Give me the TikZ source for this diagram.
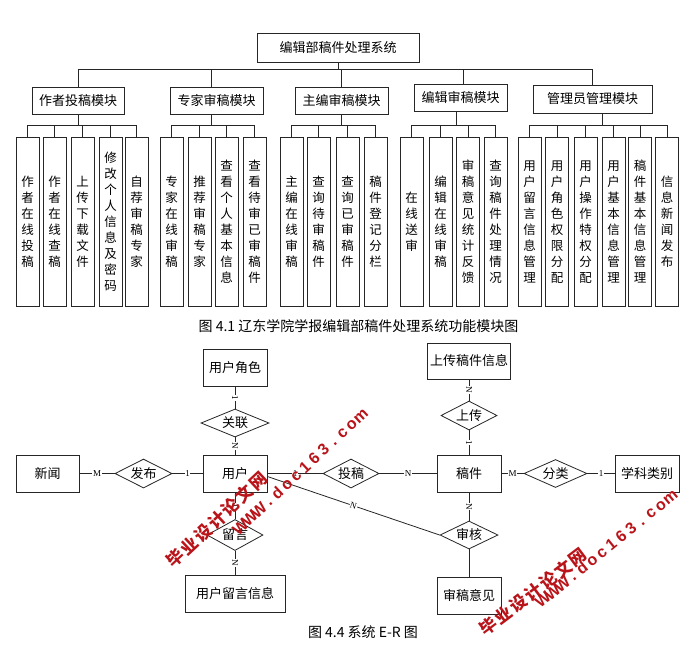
\documentclass[tikz,border=0pt]{standalone}
\usepackage{fontspec}
\setmainfont{Noto Sans CJK SC}
\newfontfamily\latf{Liberation Serif}
\newfontfamily\wmfont{Liberation Sans}
\usetikzlibrary{shapes.geometric}
\definecolor{ln}{gray}{0.15}
\definecolor{wm}{RGB}{185,20,25}
\newcommand\wmwww[3]{%
  \begin{scope}[shift={(#1,#2)},rotate=#3]
    \foreach \ch [count=\i] in {W,W,W,.,d,o,c,1,6,3,.,c,o,m}
      \node[transform shape,text=wm,font=\wmfont\bfseries\fontsize{16}{16}\selectfont,inner sep=0pt,anchor=base] at ({(\i-7.5)*12.6},6) {\ch};
  \end{scope}}
\newcommand\wmcn[3]{%
  \begin{scope}[shift={(#1,#2)},rotate=#3]
    \foreach \ch [count=\i] in {毕,业,设,计,论,文,网}
      \node[transform shape,text=wm,font=\bfseries\fontsize{17}{17}\selectfont,inner sep=0pt] at ({(\i-4)*18.8},0) {\ch};
  \end{scope}}
\begin{document}
\begin{tikzpicture}[x=1pt,y=-1pt,
  box/.style={draw=ln,line width=0.9pt,inner sep=0pt,font=\fontsize{13}{15}\selectfont},
  leaf/.style={draw=ln,line width=0.9pt,inner sep=0pt,minimum width=23pt,minimum height=169pt,anchor=north,align=center,font=\fontsize{12.5}{16}\selectfont},
  ent/.style={draw=ln,line width=0.8pt,minimum width=64pt,minimum height=37pt,inner sep=0pt,font=\fontsize{13}{15}\selectfont},
  rel/.style={diamond,draw=ln,line width=0.8pt,inner sep=0pt,shape aspect=2,minimum width=57pt,minimum height=29pt,font=\fontsize{13}{15}\selectfont},
  conn/.style={draw=ln,line width=0.8pt},
  card/.style={midway,sloped,fill=white,inner sep=0.6pt,font=\latf\fontsize{9}{9}\selectfont},
  captext/.style={inner sep=0pt,font=\fontsize{14}{16}\selectfont}
]
\fill[white] (0,0) rectangle (692,659);
\useasboundingbox (0,0) rectangle (692,659);

% ---------- module tree ----------
\node[box,minimum width=162pt,minimum height=29pt] (root) at (338,47.5) {编辑部稿件处理系统};
\node[box,minimum width=92pt,minimum height=27pt] (m1) at (78,100.5) {作者投稿模块};
\node[box,minimum width=93pt,minimum height=27pt] (m2) at (216.5,100.5) {专家审稿模块};
\node[box,minimum width=93pt,minimum height=27pt] (m3) at (341.5,100.5) {主编审稿模块};
\node[box,minimum width=93pt,minimum height=27pt] (m4) at (460.5,98) {编辑审稿模块};
\node[box,minimum width=119pt,minimum height=28pt] (m5) at (592.5,99) {管理员管理模块};

\node[leaf] (a1) at (27.5,137) {作\\者\\在\\线\\投\\稿};
\node[leaf] (a2) at (54.5,137) {作\\者\\在\\线\\查\\稿};
\node[leaf] (a3) at (82.5,137) {上\\传\\下\\载\\文\\件};
\node[leaf] (a4) at (110.5,137) {修\\改\\个\\人\\信\\息\\及\\密\\码};
\node[leaf] (a5) at (136.5,137) {自\\荐\\审\\稿\\专\\家};

\node[leaf] (b1) at (171.5,137) {专\\家\\在\\线\\审\\稿};
\node[leaf] (b2) at (199.5,137) {推\\荐\\审\\稿\\专\\家};
\node[leaf] (b3) at (226.5,137) {查\\看\\个\\人\\基\\本\\信\\息};
\node[leaf] (b4) at (254.5,137) {查\\看\\待\\审\\已\\审\\稿\\件};

\node[leaf] (c1) at (291.5,137) {主\\编\\在\\线\\审\\稿};
\node[leaf] (c2) at (318.5,137) {查\\询\\待\\审\\稿\\件};
\node[leaf] (c3) at (347.5,137) {查\\询\\已\\审\\稿\\件};
\node[leaf] (c4) at (375.5,137) {稿\\件\\登\\记\\分\\栏};

\node[leaf] (d1) at (411.5,137) {在\\线\\送\\审};
\node[leaf] (d2) at (440.5,137) {编\\辑\\在\\线\\审\\稿};
\node[leaf] (d3) at (468,137) {审\\稿\\意\\见\\统\\计\\反\\馈};
\node[leaf] (d4) at (495.5,137) {查\\询\\稿\\件\\处\\理\\情\\况};

\node[leaf] (e1) at (529.5,137) {用\\户\\留\\言\\信\\息\\管\\理};
\node[leaf] (e2) at (557,137) {用\\户\\角\\色\\权\\限\\分\\配};
\node[leaf] (e3) at (585.5,137) {用\\户\\操\\作\\特\\权\\分\\配};
\node[leaf] (e4) at (613.5,137) {用\\户\\基\\本\\信\\息\\管\\理};
\node[leaf] (e5) at (640,137) {稿\\件\\基\\本\\信\\息\\管\\理};
\node[leaf] (e6) at (667,137) {信\\息\\新\\闻\\发\\布};

\coordinate (bus0) at (0,69);
\coordinate (bus1) at (0,125);

\draw[conn] (root.south) -- (root.south |- bus0);
\draw[conn] (m1.north) -- (m1.north |- bus0) -- (m5.north |- bus0) -- (m5.north);
\draw[conn] ([xshift=-5.5pt]m2.north) -- ([xshift=-5.5pt]m2.north |- bus0);
\draw[conn] (m3.north) -- (m3.north |- bus0);
\draw[conn] ([xshift=2.5pt]m4.north) -- ([xshift=2.5pt]m4.north |- bus0);

\draw[conn] (m1.south) -- (m1.south |- bus1);
\draw[conn] (a1.north) -- (a1.north |- bus1) -- (a5.north |- bus1) -- (a5.north);
\foreach \l in {a2,a3,a4} \draw[conn] (\l.north) -- (\l.north |- bus1);

\draw[conn] ([xshift=-5.5pt]m2.south) -- ([xshift=-5.5pt]m2.south |- bus1);
\draw[conn] (b1.north) -- (b1.north |- bus1) -- (b4.north |- bus1) -- (b4.north);
\foreach \l in {b2,b3} \draw[conn] (\l.north) -- (\l.north |- bus1);

\draw[conn] (m3.south) -- (m3.south |- bus1);
\draw[conn] (c1.north) -- (c1.north |- bus1) -- (c4.north |- bus1) -- (c4.north);
\foreach \l in {c2,c3} \draw[conn] (\l.north) -- (\l.north |- bus1);

\draw[conn] ([xshift=-4.5pt]m4.south) -- ([xshift=-4.5pt]m4.south |- bus1);
\draw[conn] (d1.north) -- (d1.north |- bus1) -- (d4.north |- bus1) -- (d4.north);
\foreach \l in {d2,d3} \draw[conn] (\l.north) -- (\l.north |- bus1);

\draw[conn] ([xshift=9.5pt]m5.south) -- ([xshift=9.5pt]m5.south |- bus1);
\draw[conn] (e1.north) -- (e1.north |- bus1) -- (e6.north |- bus1) -- (e6.north);
\foreach \l in {e2,e3,e4,e5} \draw[conn] (\l.north) -- (\l.north |- bus1);

\node[captext] (cap1) at (358.5,326) {图 4.1 辽东学院学报编辑部稿件处理系统功能模块图};

% ---------- E-R diagram ----------
\node[ent] (juese) at (235,368) {用户角色};
\node[rel,minimum width=68pt,minimum height=28pt] (guanlian) at (235,423) {关联};
\node[ent] (yonghu) at (235,473.5) {用户};
\node[ent,minimum width=63pt] (xinwen) at (47.5,473.5) {新闻};
\node[rel] (fabu) at (143.5,473.5) {发布};
\node[rel,minimum width=56pt,minimum height=31pt] (liuyan) at (235,535) {留言};
\node[ent,minimum width=100pt] (lyxx) at (235,593.5) {用户留言信息};
\node[rel,minimum width=56pt] (tougao) at (351,473.5) {投稿};
\node[ent,minimum width=83pt,minimum height=36pt] (scxx) at (469,361) {上传稿件信息};
\node[rel,minimum width=56pt] (shangchuan) at (469,415.5) {上传};
\node[ent] (gaojian) at (469,473.5) {稿件};
\node[rel,minimum width=63pt,minimum height=28pt] (fenlei) at (555.5,473.5) {分类};
\node[ent] (xueke) at (647,473.5) {学科类别};
\node[rel,minimum width=58pt,minimum height=28pt] (shenhe) at (469,535) {审核};
\node[ent] (shyj) at (469,595.5) {审稿意见};

\draw[conn] (xinwen) -- node[card]{M} (fabu);
\draw[conn] (fabu) -- node[card]{1} (yonghu);
\draw[conn] (yonghu) -- node[card]{1} (tougao);
\draw[conn] (tougao) -- node[card]{N} (gaojian);
\draw[conn] (gaojian) -- node[card]{M} (fenlei);
\draw[conn] (fenlei) -- node[card]{1} (xueke);
\draw[conn] (juese) -- node[card]{1} (guanlian);
\draw[conn] (guanlian) -- node[card]{N} (yonghu);
\draw[conn] (yonghu) -- node[card]{1} (liuyan);
\draw[conn] (liuyan) -- node[card]{N} (lyxx);
\draw[conn] (scxx) -- node[card]{N} (shangchuan);
\draw[conn] (shangchuan) -- node[card]{1} (gaojian);
\draw[conn] (gaojian) -- node[card]{N} (shenhe);
\draw[conn] (shenhe) -- (shyj);
\draw[conn] ([yshift=-3pt]yonghu.east) -- node[card]{N} (shenhe.west);

\node[captext] (cap2) at (363,632) {图 4.4 系统 E-R 图};

% ---------- watermarks ----------
\wmcn{217}{520}{43}
\wmwww{300}{471}{43}
\wmcn{533}{592}{37}
\wmwww{606}{548}{39}
\end{tikzpicture}
\end{document}
